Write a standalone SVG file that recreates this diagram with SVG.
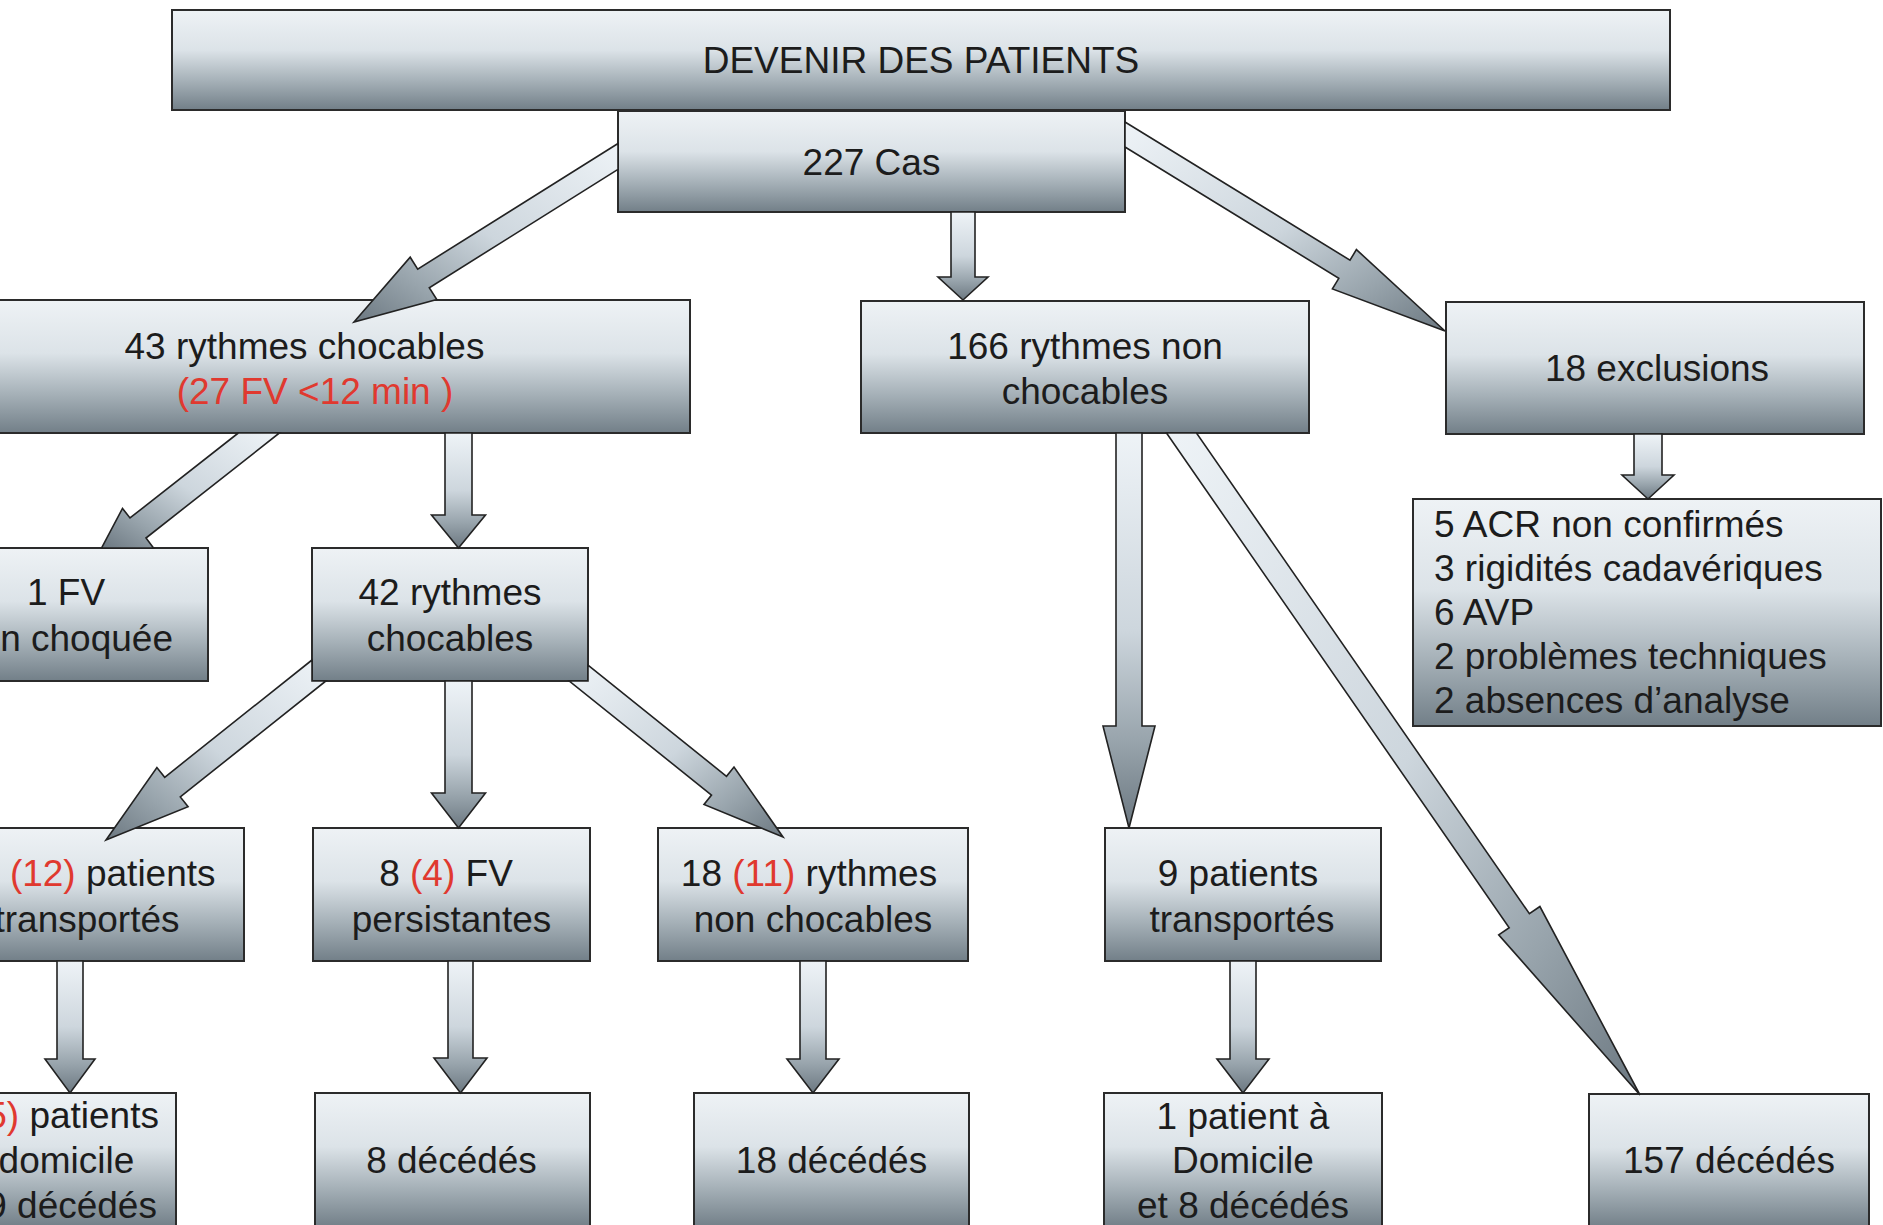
<svg xmlns="http://www.w3.org/2000/svg" width="1883" height="1225" viewBox="0 0 1883 1225">
<style>
.box{fill:url(#boxGrad);stroke:#2b2b2b;stroke-width:2}
.t{font-family:"Liberation Sans",Arial,sans-serif;font-size:37px;fill:#1c1c1c;text-anchor:middle}
.tl{font-family:"Liberation Sans",Arial,sans-serif;font-size:37px;fill:#1c1c1c;text-anchor:start}
.r{fill:#e0392f}
.ad{fill:url(#arrDown);stroke:#222;stroke-width:1.6;stroke-linejoin:miter}
.adl{fill:url(#arrDL);stroke:#222;stroke-width:1.6;stroke-linejoin:miter}
.adr{fill:url(#arrDR);stroke:#222;stroke-width:1.6;stroke-linejoin:miter}
</style>
<defs>
<linearGradient id="boxGrad" x1="0" y1="0" x2="0" y2="1">
<stop offset="0" stop-color="#eef2f5"/>
<stop offset="0.4" stop-color="#dce3e8"/>
<stop offset="0.7" stop-color="#a7b2b9"/>
<stop offset="1" stop-color="#727f88"/>
</linearGradient>
<linearGradient id="arrDown" x1="0" y1="0" x2="0" y2="1">
<stop offset="0" stop-color="#eef3f7"/>
<stop offset="0.5" stop-color="#cdd6dd"/>
<stop offset="0.78" stop-color="#98a4ac"/>
<stop offset="1" stop-color="#6c7881"/>
</linearGradient>
<linearGradient id="arrDL" x1="1" y1="0" x2="0" y2="1">
<stop offset="0" stop-color="#eef3f7"/>
<stop offset="0.5" stop-color="#cdd6dd"/>
<stop offset="0.78" stop-color="#98a4ac"/>
<stop offset="1" stop-color="#6c7881"/>
</linearGradient>
<linearGradient id="arrDR" x1="0" y1="0" x2="1" y2="1">
<stop offset="0" stop-color="#eef3f7"/>
<stop offset="0.5" stop-color="#cdd6dd"/>
<stop offset="0.78" stop-color="#98a4ac"/>
<stop offset="1" stop-color="#6c7881"/>
</linearGradient>
</defs>
<rect width="1883" height="1225" fill="#ffffff"/>

<g id="title"><rect class="box" x="172" y="10" width="1498" height="100"/><text class="t" x="921" y="73">DEVENIR DES PATIENTS</text></g>
<g id="n227"><rect class="box" x="618" y="111" width="507" height="101"/><text class="t" x="871.5" y="175">227 Cas</text></g>
<g id="n43"><rect class="box" x="-81" y="300" width="771" height="133"/><text class="t" x="304.5" y="359">43 rythmes chocables</text><text class="t r" x="315" y="404">(27 FV &lt;12 min )</text></g>
<g id="n166"><rect class="box" x="861" y="301" width="448" height="132"/><text class="t" x="1085" y="359">166 rythmes non</text><text class="t" x="1085" y="404">chocables</text></g>
<g id="n18ex"><rect class="box" x="1446" y="302" width="418" height="132"/><text class="t" x="1657" y="381">18 exclusions</text></g>
<g id="n1fv"><rect class="box" x="-76" y="548" width="284" height="133"/><text class="t" x="66" y="605">1 FV</text><text class="t" x="66" y="651">non choquée</text></g>
<g id="n42"><rect class="box" x="312" y="548" width="276" height="133"/><text class="t" x="450" y="605">42 rythmes</text><text class="t" x="450" y="651">chocables</text></g>
<g id="nACR"><rect class="box" x="1413" y="499" width="468" height="227"/><text class="tl" x="1434" y="537">5 ACR non confirmés</text><text class="tl" x="1434" y="581">3 rigidités cadavériques</text><text class="tl" x="1434" y="625">6 AVP</text><text class="tl" x="1434" y="669">2 problèmes techniques</text><text class="tl" x="1434" y="713">2 absences d’analyse</text></g>
<g id="n16"><rect class="box" x="-68" y="828" width="312" height="133"/><text class="t" x="87" y="886">16 <tspan class="r">(12)</tspan> patients</text><text class="t" x="87" y="932">transportés</text></g>
<g id="n8fv"><rect class="box" x="313" y="828" width="277" height="133"/><text class="t" x="446" y="886">8 <tspan class="r">(4)</tspan> FV</text><text class="t" x="451.5" y="932">persistantes</text></g>
<g id="n18nc"><rect class="box" x="658" y="828" width="310" height="133"/><text class="t" x="809" y="886">18 <tspan class="r">(11)</tspan> rythmes</text><text class="t" x="813" y="932">non chocables</text></g>
<g id="n9"><rect class="box" x="1105" y="828" width="276" height="133"/><text class="t" x="1238" y="886">9 patients</text><text class="t" x="1242" y="932">transportés</text></g>
<g id="n7"><rect class="box" x="-74" y="1093" width="250" height="134"/><text class="t" x="51" y="1128">7 <tspan class="r">(5)</tspan> patients</text><text class="t" x="51" y="1173">à domicile</text><text class="t" x="51" y="1218">et 9 décédés</text></g>
<g id="n8d"><rect class="box" x="315" y="1093" width="275" height="134"/><text class="t" x="451.5" y="1173">8 décédés</text></g>
<g id="n18d"><rect class="box" x="694" y="1093" width="275" height="134"/><text class="t" x="831.5" y="1173">18 décédés</text></g>
<g id="n1p"><rect class="box" x="1104" y="1093" width="278" height="134"/><text class="t" x="1243" y="1129">1 patient à</text><text class="t" x="1243" y="1173">Domicile</text><text class="t" x="1243" y="1218">et 8 décédés</text></g>
<g id="n157"><rect class="box" x="1589" y="1094" width="280" height="134"/><text class="t" x="1729" y="1173">157 décédés</text></g>

<g id="connectors">
<polygon class="adl" points="618,143.5 417.7,269.1 410.2,257.2 354,322 436.8,299.6 429.3,287.7 618,169.4"/>
<polygon class="ad" points="951,212 951,277 938,277 963,300 988,277 975,277 975,212"/>
<polygon class="adr" points="1125,122 1350,260.2 1356.4,249.6 1445,331 1332.4,288.9 1338.8,278.3 1125,147"/>
<polygon class="adl" points="238.3,433 130,518 122.5,508.4 101.6,548 153.5,548 146,538 279.4,433"/>
<polygon class="ad" points="445,433 445,515 431.5,515 458.5,548 485.5,515 472,515 472,433"/>
<polygon class="adl" points="312,660 164.7,777.3 156.9,767.5 106,840 188.1,806.7 180.3,796.9 325.9,681 312,681"/>
<polygon class="ad" points="445,681 445,793 431.5,793 458.5,828 485.5,793 472,793 472,681"/>
<polygon class="adr" points="588,665.2 726.5,776.3 734,767 783,837 704,804.4 711.5,795.1 569.3,681 588,681"/>
<polygon class="ad" points="1116,433 1116,726 1103,726 1129,828 1155,726 1142,726 1142,433"/>
<polygon class="adr" points="1166.5,433 1509.2,927.7 1498.7,934.9 1640,1095 1539.9,906.5 1529.4,913.7 1196.5,433"/>
<polygon class="ad" points="1634,434 1634,475 1622,475 1648,499 1674,475 1662,475 1662,434"/>
<polygon class="ad" points="57,961 57,1059 45,1059 70,1093 95,1059 83,1059 83,961"/>
<polygon class="ad" points="448,961 448,1058 434,1058 460.5,1093 487,1058 473,1058 473,961"/>
<polygon class="ad" points="800,961 800,1059 787,1059 813,1093 839,1059 826,1059 826,961"/>
<polygon class="ad" points="1230,961 1230,1059 1217,1059 1243,1093 1269,1059 1256,1059 1256,961"/>
</g>
</svg>
